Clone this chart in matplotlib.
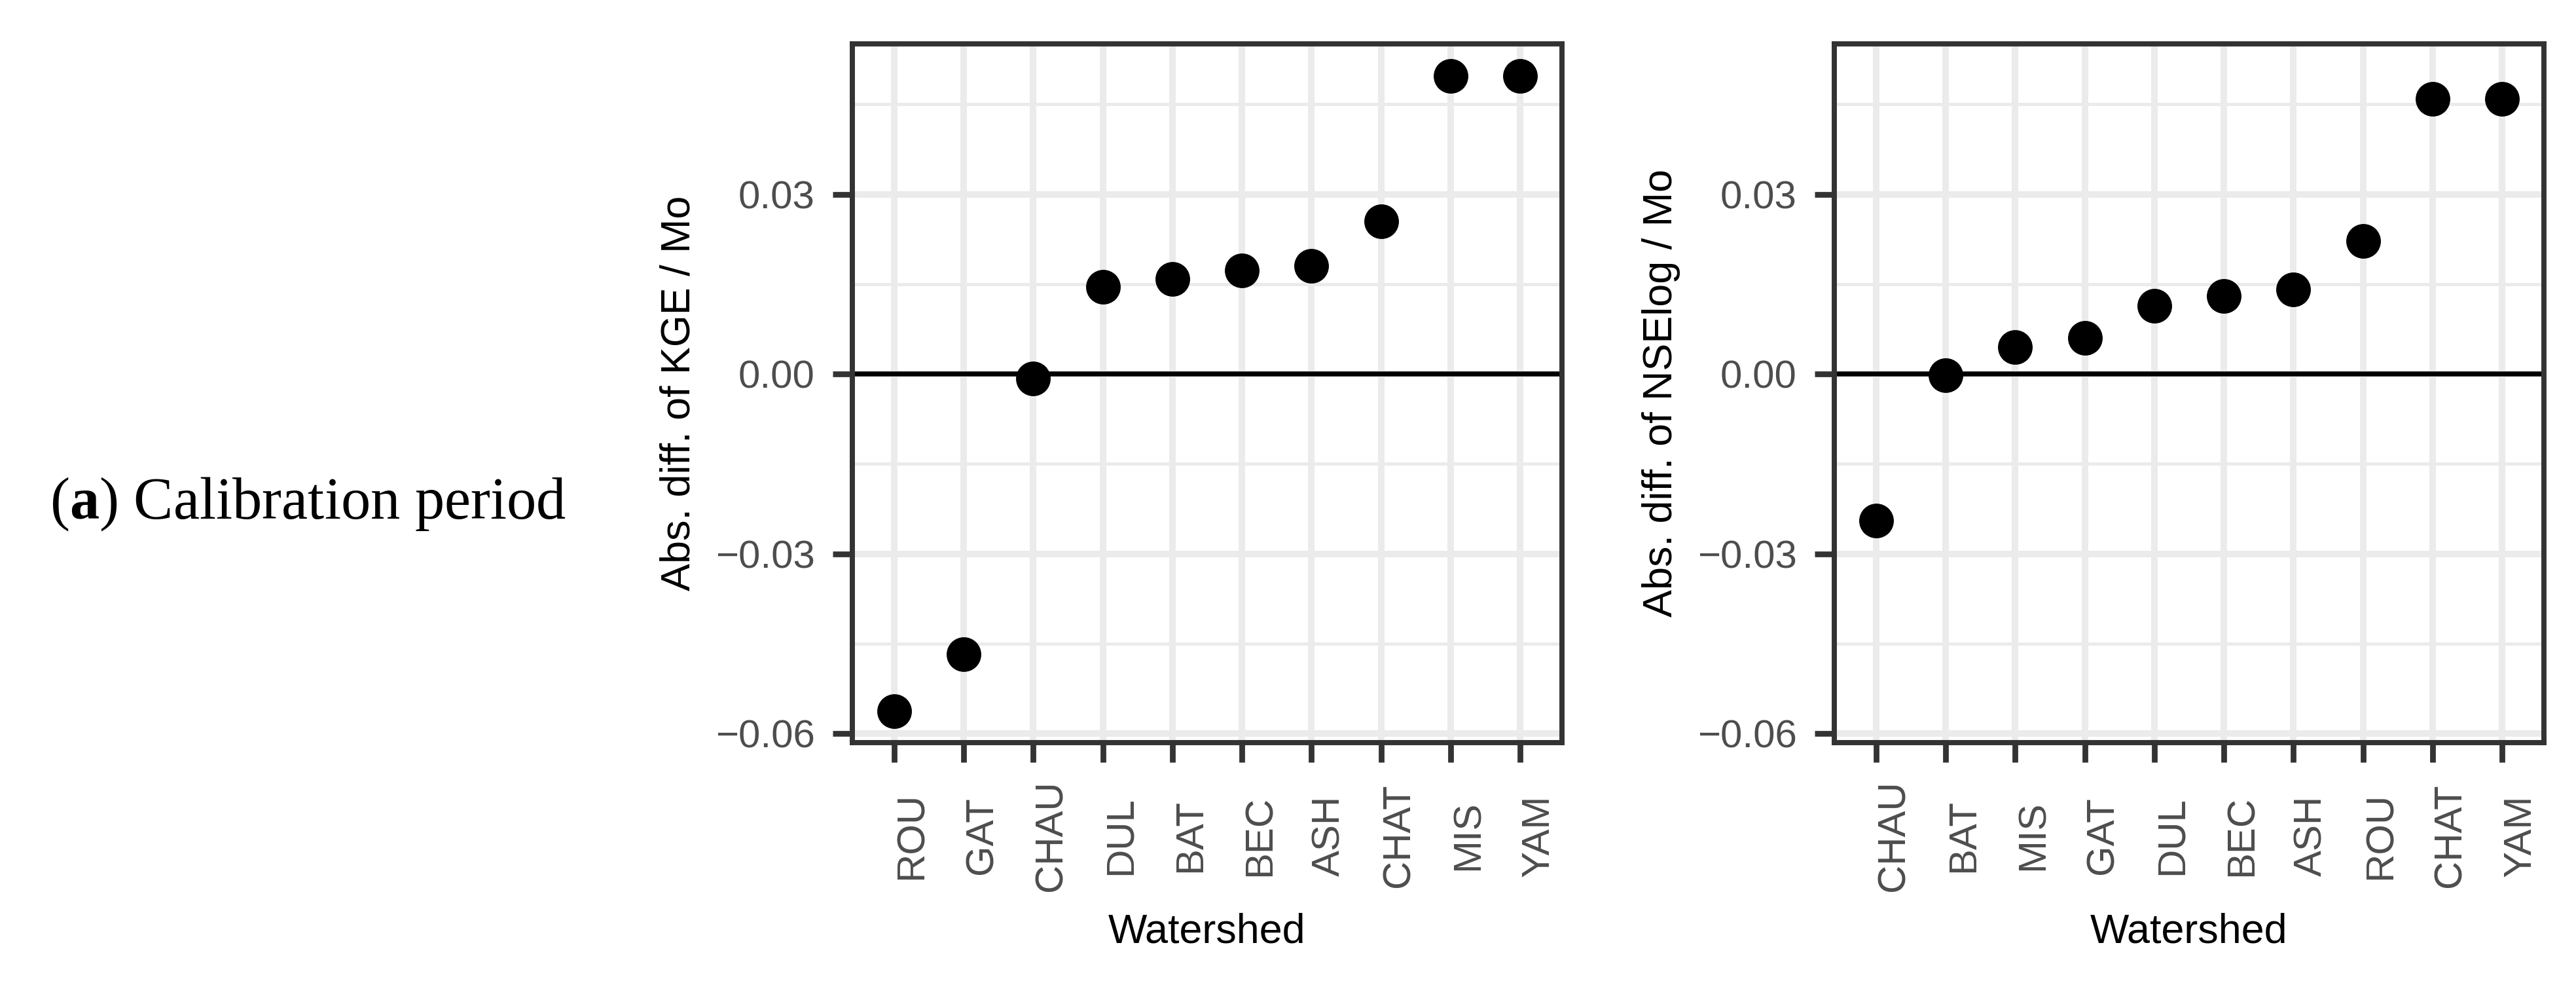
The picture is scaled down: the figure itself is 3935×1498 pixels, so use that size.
import matplotlib
matplotlib.use("Agg")
import matplotlib.pyplot as plt

# data
kge_sites = ['ROU', 'GAT', 'CHAU', 'DUL', 'BAT', 'BEC', 'ASH', 'CHAT', 'MIS', 'YAM']
kge_vals = [-0.0562, -0.0468, -0.0007, 0.0146, 0.0159, 0.0173, 0.0181, 0.0255, 0.0498, 0.0498]

nse_sites = ['CHAU', 'BAT', 'MIS', 'GAT', 'DUL', 'BEC', 'ASH', 'ROU', 'CHAT', 'YAM']
nse_vals = [-0.0244, -0.0002, 0.0045, 0.0060, 0.0114, 0.0130, 0.0141, 0.0222, 0.0459, 0.0459]

yticks = [-0.06, -0.03, 0.00, 0.03]
ytick_labels = ['\u22120.06', '\u22120.03', '0.00', '0.03']
yminor = [-0.045, -0.015, 0.015, 0.045]
ylabels = ['Abs. diff. of KGE / Mo', 'Abs. diff. of NSElog / Mo']

plt.rcParams['font.family'] = ['Liberation Sans', 'DejaVu Sans']
plt.rcParams['mathtext.fontset'] = 'custom'
plt.rcParams['mathtext.rm'] = 'Liberation Serif'
plt.rcParams['mathtext.bf'] = 'Liberation Serif:bold'

W, H = 3936, 1498
dpi = 300
fig = plt.figure(figsize=(W / dpi, H / dpi), dpi=dpi)

dark = '#333333'
grid_c = '#EBEBEB'
tick_c = '#4D4D4D'

ax_w = 1084 / W
ax_h = 1067 / H
bottom = 1 - 1134 / H
lefts = [1302 / W, 2802 / W]

for i, (sites, vals) in enumerate([(kge_sites, kge_vals), (nse_sites, nse_vals)]):
    ax = fig.add_axes([lefts[i], bottom, ax_w, ax_h])
    x = list(range(1, len(sites) + 1))
    ax.set_xlim(0.4, len(sites) + 0.6)
    ax.set_ylim(-0.0615, 0.0551)

    ax.set_xticks(x)
    ax.set_xticklabels(sites, rotation=90, ha='left', va='center',
                       color=tick_c, fontsize=14.4)
    ax.set_yticks(yticks)
    ax.set_yticklabels(ytick_labels, color=tick_c, fontsize=14.4)
    ax.set_yticks(yminor, minor=True)

    ax.grid(True, which='major', color=grid_c, lw=2.4, zorder=0)
    ax.grid(True, which='minor', axis='y', color=grid_c, lw=1.2, zorder=0)
    ax.set_axisbelow(True)
    ax.tick_params(which='minor', length=0)
    ax.tick_params(which='major', length=7.2, width=2.1, color=dark)
    ax.tick_params(axis='y', pad=6.6)
    ax.tick_params(axis='x', pad=26.9)
    for sp in ax.spines.values():
        sp.set_color(dark)
        sp.set_linewidth(1.9)
        sp.set_zorder(5)

    ax.axhline(0, color='black', lw=1.8, zorder=2)
    ax.plot(x, vals, 'o', color='black', ms=12.7, mew=0, zorder=3, clip_on=False)

    ax.set_xlabel('Watershed', fontsize=15.1, color='black')
    ax.xaxis.label.set_va('baseline')
    ax.xaxis.set_label_coords(0.5, -(1439 - 1134) / 1067)
    ax.set_ylabel(ylabels[i], fontsize=15.1, color='black')
    ax.yaxis.set_label_coords(-(1302 - 1067) / 1084, 0.5)

fig.text(76 / W, 1 - 792 / H, r'($\mathbf{a}$) Calibration period',
         fontsize=21.7, family='Liberation Serif', va='baseline', ha='left')

fig.savefig('out.png', dpi=dpi)
